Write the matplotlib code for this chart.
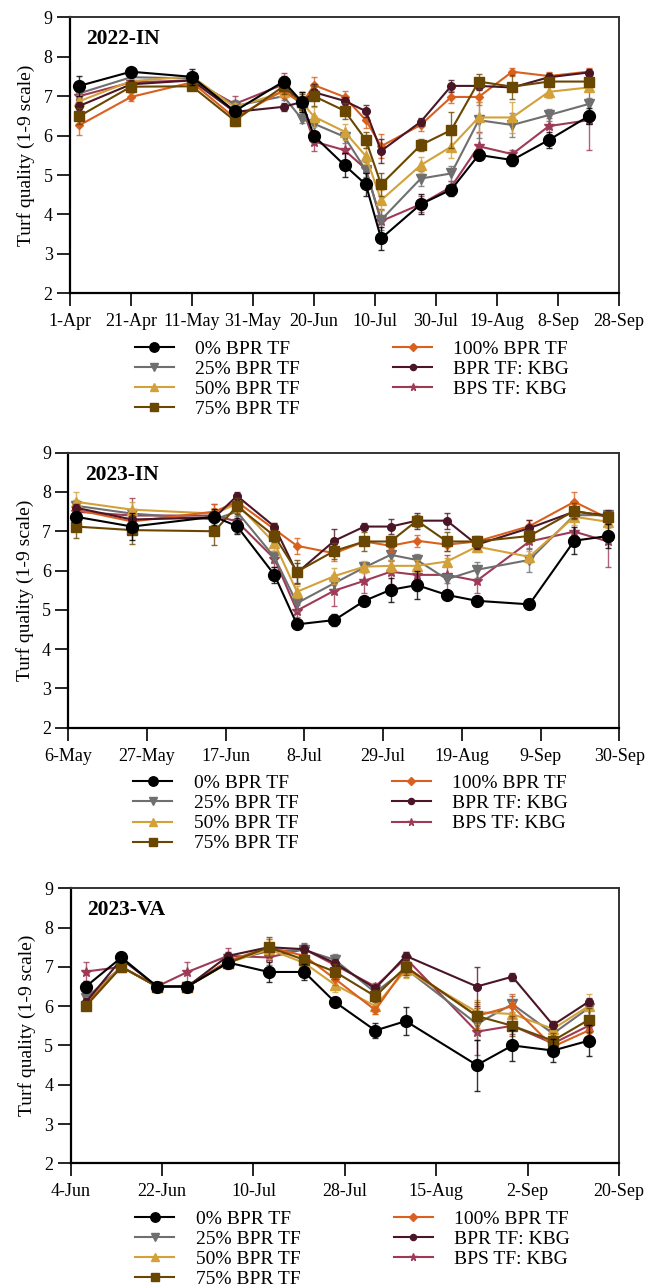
import matplotlib
matplotlib.use("Agg")
import matplotlib.pyplot as plt
import matplotlib.dates as mdates
import pandas as pd

plt.rcParams['font.family'] = ['Liberation Serif', 'DejaVu Serif']

series_names = ['0% BPR TF', '25% BPR TF', '50% BPR TF', '75% BPR TF',
                '100% BPR TF', 'BPR TF: KBG', 'BPS TF: KBG']

# ---------------- Panel 1: 2022-IN ----------------
p1_title = '2022-IN'
p1_dates = ['2022-04-04', '2022-04-21', '2022-05-11', '2022-05-25', '2022-06-10', '2022-06-16',
            '2022-06-20', '2022-06-30', '2022-07-07', '2022-07-12', '2022-07-25', '2022-08-04',
            '2022-08-13', '2022-08-24', '2022-09-05', '2022-09-18']
p1_ticks = ['1-Apr', '21-Apr', '11-May', '31-May', '20-Jun', '10-Jul', '30-Jul', '19-Aug', '8-Sep', '28-Sep']
p1_year = 2022
p1_bpr0 = [7.26, 7.62, 7.49, 6.62, 7.37, 6.86, 5.99, 5.25, 4.76, 3.39, 4.26, 4.63, 5.51, 5.38, 5.89, 6.49]
p1_bpr25 = [7.07, 7.48, 7.45, 6.75, 7.00, 6.42, 6.30, 5.97, 5.12, 3.86, 4.91, 5.04, 6.39, 6.27, 6.52, 6.80]
p1_bpr50 = [6.87, 7.38, 7.50, 6.72, 7.10, 6.85, 6.48, 6.10, 5.48, 4.36, 5.25, 5.72, 6.46, 6.46, 7.11, 7.22]
p1_bpr75 = [6.49, 7.24, 7.25, 6.38, 7.25, 6.85, 7.00, 6.63, 5.89, 4.76, 5.76, 6.14, 7.37, 7.24, 7.37, 7.37]
p1_bpr100 = [6.26, 6.98, 7.35, 6.45, 7.15, 6.80, 7.28, 6.98, 6.39, 5.73, 6.27, 6.98, 6.98, 7.62, 7.51, 7.62]
p1_bprkbg = [6.75, 7.30, 7.40, 6.60, 6.73, 6.85, 7.10, 6.88, 6.62, 5.61, 6.35, 7.26, 7.26, 7.22, 7.48, 7.60]
p1_bpskbg = [7.00, 7.35, 7.40, 6.80, 7.30, 6.75, 5.85, 5.63, 5.15, 3.83, 4.26, 4.70, 5.73, 5.53, 6.24, 6.39]
p1_err0 = [0.25, 0.05, 0.20, 0.10, 0.15, 0.25, 0.10, 0.30, 0.30, 0.30, 0.25, 0.15, 0.10, 0.15, 0.20, 0.20]
p1_err25 = [0.10, 0.10, 0.10, 0.15, 0.10, 0.10, 0.20, 0.15, 0.20, 0.25, 0.20, 0.20, 0.45, 0.30, 0.15, 0.15]
p1_err50 = [0.15, 0.10, 0.10, 0.10, 0.10, 0.15, 0.25, 0.20, 0.20, 0.25, 0.20, 0.30, 0.40, 0.40, 0.15, 0.10]
p1_err75 = [0.20, 0.10, 0.10, 0.10, 0.20, 0.20, 0.25, 0.20, 0.20, 0.30, 0.15, 0.45, 0.20, 0.30, 0.10, 0.10]
p1_err100 = [0.25, 0.10, 0.10, 0.20, 0.20, 0.15, 0.20, 0.15, 0.20, 0.30, 0.15, 0.15, 0.20, 0.10, 0.10, 0.10]
p1_errbprkbg = [0.10, 0.10, 0.10, 0.10, 0.10, 0.25, 0.20, 0.10, 0.15, 0.30, 0.10, 0.15, 0.10, 0.10, 0.10, 0.10]
p1_errbpskbg = [0.15, 0.10, 0.10, 0.20, 0.30, 0.20, 0.25, 0.35, 0.20, 0.30, 0.20, 0.15, 0.35, 0.10, 0.20, 0.75]

# ---------------- Panel 2: 2023-IN ----------------
p2_title = '2023-IN'
p2_dates = ['2023-05-08', '2023-05-23', '2023-06-14', '2023-06-20', '2023-06-30', '2023-07-06',
            '2023-07-16', '2023-07-24', '2023-07-31', '2023-08-07', '2023-08-15', '2023-08-23',
            '2023-09-06', '2023-09-18', '2023-09-27']
p2_ticks = ['6-May', '27-May', '17-Jun', '8-Jul', '29-Jul', '19-Aug', '9-Sep', '30-Sep']
p2_year = 2023
p2_bpr0 = [7.37, 7.12, 7.37, 7.13, 5.89, 4.63, 4.74, 5.23, 5.51, 5.63, 5.38, 5.23, 5.14, 6.76, 6.88]
p2_bpr25 = [7.65, 7.45, 7.30, 7.50, 6.34, 5.17, 5.68, 6.08, 6.40, 6.27, 5.78, 6.02, 6.27, 7.41, 7.41]
p2_bpr50 = [7.75, 7.55, 7.45, 7.70, 6.70, 5.46, 5.86, 6.10, 6.12, 6.12, 6.23, 6.61, 6.35, 7.37, 7.24]
p2_bpr75 = [7.12, 7.03, 7.00, 7.64, 6.88, 5.97, 6.50, 6.74, 6.74, 7.27, 6.74, 6.74, 6.88, 7.52, 7.37]
p2_bpr100 = [7.55, 7.25, 7.50, 7.75, 7.05, 6.63, 6.44, 6.74, 6.63, 6.76, 6.66, 6.74, 7.13, 7.75, 7.33]
p2_bprkbg = [7.60, 7.30, 7.35, 7.90, 7.12, 5.94, 6.76, 7.12, 7.12, 7.27, 7.27, 6.66, 7.08, 7.50, 7.40]
p2_bpskbg = [7.50, 7.40, 7.40, 7.25, 6.30, 4.98, 5.49, 5.74, 5.97, 5.89, 5.89, 5.74, 6.74, 6.99, 6.74]
p2_err0 = [0.10, 0.35, 0.20, 0.20, 0.20, 0.10, 0.15, 0.10, 0.30, 0.35, 0.10, 0.10, 0.10, 0.35, 0.30]
p2_err25 = [0.15, 0.10, 0.10, 0.10, 0.15, 0.20, 0.15, 0.10, 0.15, 0.15, 0.10, 0.20, 0.30, 0.10, 0.10]
p2_err50 = [0.25, 0.20, 0.15, 0.20, 0.20, 0.15, 0.20, 0.15, 0.15, 0.15, 0.10, 0.15, 0.15, 0.20, 0.15]
p2_err75 = [0.30, 0.35, 0.35, 0.20, 0.15, 0.30, 0.20, 0.25, 0.15, 0.15, 0.25, 0.15, 0.15, 0.20, 0.15]
p2_err100 = [0.15, 0.20, 0.20, 0.20, 0.15, 0.20, 0.20, 0.10, 0.15, 0.15, 0.15, 0.10, 0.15, 0.25, 0.15]
p2_errbprkbg = [0.10, 0.10, 0.10, 0.10, 0.10, 0.25, 0.30, 0.10, 0.20, 0.20, 0.20, 0.10, 0.20, 0.15, 0.15]
p2_errbpskbg = [0.20, 0.45, 0.30, 0.30, 0.20, 0.15, 0.40, 0.30, 0.30, 0.40, 0.50, 0.30, 0.20, 0.35, 0.65]

# ---------------- Panel 3: 2023-VA ----------------
p3_title = '2023-VA'
p3_dates = ['2023-06-07', '2023-06-14', '2023-06-21', '2023-06-27', '2023-07-05', '2023-07-13',
            '2023-07-20', '2023-07-26', '2023-08-03', '2023-08-09', '2023-08-23', '2023-08-30',
            '2023-09-07', '2023-09-14']
p3_ticks = ['4-Jun', '22-Jun', '10-Jul', '28-Jul', '15-Aug', '2-Sep', '20-Sep']
p3_year = 2023
p3_bpr0 = [6.50, 7.24, 6.50, 6.50, 7.11, 6.87, 6.87, 6.11, 5.38, 5.62, 4.50, 5.00, 4.87, 5.12]
p3_bpr25 = [6.20, 7.00, 6.50, 6.50, 7.15, 7.40, 7.43, 7.18, 6.35, 6.95, 5.55, 6.05, 5.30, 5.95]
p3_bpr50 = [6.10, 7.00, 6.50, 6.50, 7.10, 7.45, 7.10, 6.55, 6.00, 6.92, 5.85, 5.80, 5.42, 6.00]
p3_bpr75 = [6.00, 7.00, 6.50, 6.50, 7.10, 7.50, 7.18, 6.88, 6.25, 7.00, 5.75, 5.50, 5.12, 5.65]
p3_bpr100 = [6.05, 7.00, 6.50, 6.50, 7.15, 7.50, 7.28, 6.70, 5.90, 7.00, 5.75, 6.00, 4.97, 5.38]
p3_bprkbg = [6.10, 7.20, 6.50, 6.50, 7.28, 7.50, 7.45, 7.10, 6.45, 7.28, 6.50, 6.75, 5.52, 6.11]
p3_bpskbg = [6.88, 7.00, 6.50, 6.87, 7.28, 7.24, 7.45, 7.05, 6.50, 7.22, 5.35, 5.50, 5.05, 5.50]
p3_err0 = [0.15, 0.10, 0.05, 0.05, 0.15, 0.25, 0.20, 0.05, 0.20, 0.35, 0.65, 0.40, 0.30, 0.40]
p3_err25 = [0.20, 0.10, 0.05, 0.05, 0.15, 0.10, 0.15, 0.15, 0.10, 0.20, 0.40, 0.20, 0.15, 0.20]
p3_err50 = [0.10, 0.10, 0.05, 0.05, 0.15, 0.25, 0.20, 0.20, 0.20, 0.20, 0.30, 0.30, 0.20, 0.30]
p3_err75 = [0.10, 0.05, 0.05, 0.05, 0.10, 0.25, 0.15, 0.20, 0.15, 0.20, 0.35, 0.25, 0.20, 0.30]
p3_err100 = [0.10, 0.05, 0.05, 0.05, 0.10, 0.20, 0.15, 0.15, 0.10, 0.15, 0.30, 0.30, 0.20, 0.30]
p3_errbprkbg = [0.10, 0.10, 0.05, 0.05, 0.10, 0.10, 0.10, 0.10, 0.10, 0.10, 0.50, 0.10, 0.10, 0.10]
p3_errbpskbg = [0.25, 0.10, 0.05, 0.25, 0.20, 0.20, 0.15, 0.15, 0.10, 0.15, 0.60, 0.20, 0.15, 0.25]

# ---------------- styles ----------------
colors = ['#000000', '#6f6f6f', '#d3a13a', '#6a4700', '#d9601e', '#4a1626', '#9e3a56']
markers = ['o', 'v', '^', 's', 'D', 'o', '*']
msizes = [8.5, 7.0, 7.0, 7.5, 4.5, 5.5, 7.0]
zorders = [9, 4, 5, 8, 6, 7, 3]

panels = [
    (p1_title, p1_dates, p1_ticks, p1_year,
     [p1_bpr0, p1_bpr25, p1_bpr50, p1_bpr75, p1_bpr100, p1_bprkbg, p1_bpskbg],
     [p1_err0, p1_err25, p1_err50, p1_err75, p1_err100, p1_errbprkbg, p1_errbpskbg]),
    (p2_title, p2_dates, p2_ticks, p2_year,
     [p2_bpr0, p2_bpr25, p2_bpr50, p2_bpr75, p2_bpr100, p2_bprkbg, p2_bpskbg],
     [p2_err0, p2_err25, p2_err50, p2_err75, p2_err100, p2_errbprkbg, p2_errbpskbg]),
    (p3_title, p3_dates, p3_ticks, p3_year,
     [p3_bpr0, p3_bpr25, p3_bpr50, p3_bpr75, p3_bpr100, p3_bprkbg, p3_bpskbg],
     [p3_err0, p3_err25, p3_err50, p3_err75, p3_err100, p3_errbprkbg, p3_errbpskbg]),
]

W, H = 646, 1287
fig = plt.figure(figsize=(W / 100, H / 100), dpi=100)

# axes boxes in pixels: left, right, top, bottom
boxes = [(70, 619, 17.3, 293.3), (68.3, 619.3, 452.7, 727.7), (70.7, 619, 888.3, 1163.3)]

for (title, dates, ticks, year, vals, errs), (l, r, t, b) in zip(panels, boxes):
    ax = fig.add_axes([l / W, 1 - b / H, (r - l) / W, (b - t) / H])
    x = pd.to_datetime(dates)
    handles = []
    for i in range(len(series_names)):
        cont = ax.errorbar(x, vals[i], yerr=errs[i], color=colors[i], marker=markers[i],
                           markersize=msizes[i], lw=1.5, elinewidth=1.0, capsize=2.5,
                           capthick=1.0, ecolor=colors[i], zorder=zorders[i],
                           label=series_names[i])
        for c in cont[1]:
            c.set_alpha(0.8)
        for c in cont[2]:
            c.set_alpha(0.8)
        handles.append(cont[0])
    tick_dates = pd.to_datetime([f'{s}-{year}' for s in ticks], format='%d-%b-%Y')
    ax.set_xticks(tick_dates)
    ax.set_xticklabels(ticks)
    ax.set_xlim(tick_dates[0], tick_dates[-1])
    ax.set_ylim(2, 9)
    ax.set_yticks(range(2, 10))
    ax.tick_params(axis='both', direction='out', length=9.5, width=1.2, labelsize=13,
                   color='black')
    ax.tick_params(axis='x', pad=5)
    ax.tick_params(axis='y', pad=3)
    for side in ['left', 'bottom']:
        ax.spines[side].set_linewidth(1.6)
        ax.spines[side].set_color('black')
    for side in ['top', 'right']:
        ax.spines[side].set_linewidth(1.4)
        ax.spines[side].set_color('#333333')
    ax.set_ylabel('Turf quality (1-9 scale)', fontsize=14, labelpad=6)
    ax.text(0.03, 0.92, title, transform=ax.transAxes, fontsize=15.5, fontweight='bold',
            va='center', ha='left')
    leg = ax.legend(handles=handles, labels=series_names, ncol=2, loc='upper left',
                    bbox_to_anchor=(0.118, -0.17), frameon=False, fontsize=14,
                    handlelength=2.0, handletextpad=1.1, columnspacing=4.8,
                    labelspacing=0.13, borderpad=0, borderaxespad=0, markerscale=0.8)

fig.savefig('out.png', dpi=100)
